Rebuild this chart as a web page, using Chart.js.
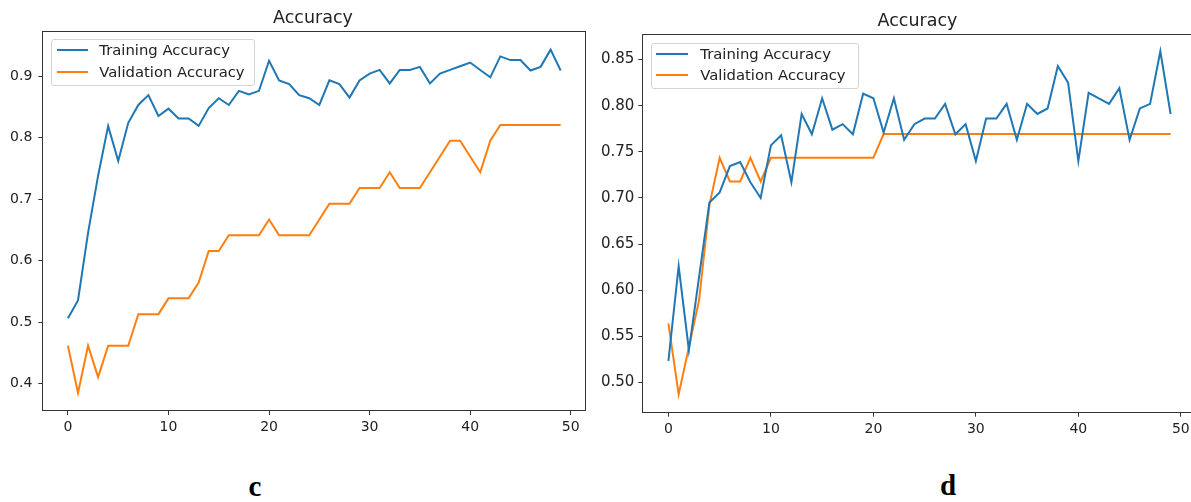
<!DOCTYPE html>
<html>
<head>
<meta charset="utf-8">
<script src="https://cdn.jsdelivr.net/npm/chart.js@4.4.1/dist/chart.umd.min.js"></script>
<style>
  html, body { margin: 0; padding: 0; background: #fff; overflow: hidden; width: 1191px; height: 502px; }
  canvas { position: absolute; top: 0; }
  .title { position: absolute; font-family: 'DejaVu Sans', sans-serif; font-size: 17.5px; line-height: 20px;
           color: #222; white-space: nowrap; transform: translateX(-50%); }
  .tag { position: absolute; font-family: 'Liberation Serif', 'Times New Roman', serif; font-weight: bold;
         font-size: 29px; line-height: 29px; color: #000; transform: translateX(-50%); }
  .legend { position: absolute; box-sizing: border-box; border: 1px solid #d4d4d4; border-radius: 3px;
            background: rgba(255,255,255,0.8); }
  .legend .swatch { position: absolute; height: 2px; }
  .legend .label { position: absolute; font-family: 'DejaVu Sans', sans-serif; font-size: 14.8px;
                   line-height: 18px; color: #222; white-space: nowrap; }
</style>
</head>
<body>
<canvas id="chartC" width="595" height="440" style="left:0px"></canvas>
<canvas id="chartD" width="610" height="440" style="left:596px"></canvas>
<div class="title" style="left:313px; top:7px;">Accuracy</div>
<div class="title" style="left:917.5px; top:10px;">Accuracy</div>
<div class="tag" style="left:255px; top:472px;">c</div>
<div class="tag" style="left:948px; top:471px;">d</div>
<div id="legendC" class="legend" style="left:51px; top:39px; width:204px; height:47px;"></div>
<div id="legendD" class="legend" style="left:651px; top:43px; width:208px; height:46px;"></div>
<script>
// Epoch indices along the x axis
const epochs = Array.from({ length: 50 }, (_, i) => i);

// Panel c
const trainAccC = [0.506, 0.535, 0.645, 0.738, 0.819, 0.762, 0.824, 0.853, 0.869, 0.835,
                   0.847, 0.831, 0.831, 0.819, 0.848, 0.864, 0.853, 0.876, 0.870, 0.876,
                   0.925, 0.893, 0.887, 0.869, 0.864, 0.853, 0.893, 0.887, 0.865, 0.893,
                   0.904, 0.910, 0.888, 0.910, 0.910, 0.915, 0.888, 0.904, 0.910, 0.916,
                   0.922, 0.910, 0.898, 0.932, 0.926, 0.926, 0.909, 0.915, 0.943, 0.909];
const valAccC   = [0.4615, 0.3846, 0.4615, 0.4103, 0.4615, 0.4615, 0.4615, 0.5128, 0.5128, 0.5128,
                   0.5385, 0.5385, 0.5385, 0.5641, 0.6154, 0.6154, 0.6410, 0.6410, 0.6410, 0.6410,
                   0.6667, 0.6410, 0.6410, 0.6410, 0.6410, 0.6667, 0.6923, 0.6923, 0.6923, 0.7179,
                   0.7179, 0.7179, 0.7436, 0.7179, 0.7179, 0.7179, 0.7436, 0.7692, 0.7949, 0.7949,
                   0.7692, 0.7436, 0.7949, 0.8205, 0.8205, 0.8205, 0.8205, 0.8205, 0.8205, 0.8205];
const yTicksC = [0.4, 0.5, 0.6, 0.7, 0.8, 0.9];

// Panel d
const trainAccD = [0.5235, 0.626, 0.535, 0.615, 0.695, 0.706, 0.7345, 0.739, 0.717, 0.700,
                   0.757, 0.768, 0.717, 0.791, 0.769, 0.808, 0.774, 0.780, 0.769, 0.813,
                   0.808, 0.771, 0.808, 0.763, 0.780, 0.786, 0.786, 0.802, 0.769, 0.780,
                   0.740, 0.786, 0.786, 0.802, 0.763, 0.802, 0.791, 0.797, 0.843, 0.825,
                   0.740, 0.814, 0.808, 0.802, 0.819, 0.763, 0.797, 0.802, 0.859, 0.791];
const valAccD   = [0.5641, 0.4872, 0.5385, 0.5897, 0.6923, 0.7436, 0.7179, 0.7179, 0.7436, 0.7179,
                   0.7436, 0.7436, 0.7436, 0.7436, 0.7436, 0.7436, 0.7436, 0.7436, 0.7436, 0.7436,
                   0.7436, 0.7692, 0.7692, 0.7692, 0.7692, 0.7692, 0.7692, 0.7692, 0.7692, 0.7692,
                   0.7692, 0.7692, 0.7692, 0.7692, 0.7692, 0.7692, 0.7692, 0.7692, 0.7692, 0.7692,
                   0.7692, 0.7692, 0.7692, 0.7692, 0.7692, 0.7692, 0.7692, 0.7692, 0.7692, 0.7692];
const yTicksD = [0.50, 0.55, 0.60, 0.65, 0.70, 0.75, 0.80, 0.85];

const xTicks = [0, 10, 20, 30, 40, 50];
const seriesNames = ['Training Accuracy', 'Validation Accuracy'];
const seriesColors = ['#1f77b4', '#ff7f0e'];

const INK = '#222';
const SPINE = '#333';

// Axes frame drawn on all four sides of the plotting area
const framePlugin = {
  id: 'frame',
  afterDraw(chart) {
    const a = chart.chartArea, ctx = chart.ctx;
    ctx.save();
    ctx.strokeStyle = SPINE;
    ctx.lineWidth = 1;
    ctx.strokeRect(Math.round(a.left) - 0.5, Math.round(a.top) - 0.5,
                   Math.round(a.right - a.left) + 1, Math.round(a.bottom - a.top) + 1);
    ctx.restore();
  }
};

function buildChart(id, cfg) {
  const datasets = [cfg.train, cfg.val].map((vals, k) => ({
    label: seriesNames[k],
    data: vals,
    borderColor: seriesColors[k],
    backgroundColor: seriesColors[k],
    borderWidth: 2,
    pointRadius: 0,
    tension: 0,
    fill: false
  }));
  const tickGrid = { display: true, drawOnChartArea: false, drawTicks: true, tickLength: 5,
                     color: SPINE, lineWidth: 1 };
  return new Chart(document.getElementById(id), {
    type: 'line',
    data: { labels: epochs, datasets },
    plugins: [framePlugin],
    options: {
      responsive: false,
      animation: false,
      devicePixelRatio: 1,
      layout: { padding: cfg.padding },
      plugins: { legend: { display: false }, tooltip: { enabled: false }, title: { display: false } },
      scales: {
        x: {
          type: 'linear',
          min: -2.45, max: 51.45,
          grid: tickGrid,
          border: { display: false },
          afterBuildTicks: s => { s.ticks = xTicks.map(v => ({ value: v })); },
          afterFit: s => { s.height = cfg.xHeight; },
          ticks: { color: INK, font: { family: 'DejaVu Sans', size: 14 }, padding: 4,
                   maxRotation: 0, autoSkip: false, callback: v => String(v) }
        },
        y: {
          type: 'linear',
          min: cfg.yMin, max: cfg.yMax,
          grid: tickGrid,
          border: { display: false },
          afterBuildTicks: s => { s.ticks = cfg.yTicks.map(v => ({ value: v })); },
          afterFit: s => { s.width = cfg.yWidth; },
          ticks: { color: INK, font: { family: 'DejaVu Sans', size: cfg.yFont }, padding: cfg.yPad,
                   autoSkip: false, callback: v => v.toFixed(cfg.decimals) }
        }
      }
    }
  });
}

buildChart('chartC', {
  train: trainAccC, val: valAccC, yTicks: yTicksC, decimals: 1,
  yMin: 0.3569, yMax: 0.9717, yFont: 14, yPad: 6,
  padding: { left: 0, top: 32, right: 9.7, bottom: 0 },
  yWidth: 43.3, xHeight: 30
});

buildChart('chartD', {
  train: trainAccD, val: valAccD, yTicks: yTicksD, decimals: 2,
  yMin: 0.4684, yMax: 0.8766, yFont: 15, yPad: 4,
  padding: { left: 0, top: 35, right: 10.3, bottom: 0 },
  yWidth: 47.3, xHeight: 28.3
});

// Legends placed inside the upper-left of each plotting area
function buildLegend(id, swatchLeft, textLeft, rowCenters) {
  const box = document.getElementById(id);
  seriesNames.forEach((name, k) => {
    const sw = document.createElement('div');
    sw.className = 'swatch';
    sw.style.left = swatchLeft + 'px';
    sw.style.width = '31.6px';
    sw.style.top = (rowCenters[k] - 1) + 'px';
    sw.style.background = seriesColors[k];
    box.appendChild(sw);
    const lb = document.createElement('div');
    lb.className = 'label';
    lb.style.left = textLeft + 'px';
    lb.style.top = (rowCenters[k] - 9) + 'px';
    lb.textContent = name;
    box.appendChild(lb);
  });
}
buildLegend('legendC', 4.7, 47.3, [10, 31.5]);
buildLegend('legendD', 4.3, 48.3, [9.6, 30.6]);
</script>
</body>
</html>
